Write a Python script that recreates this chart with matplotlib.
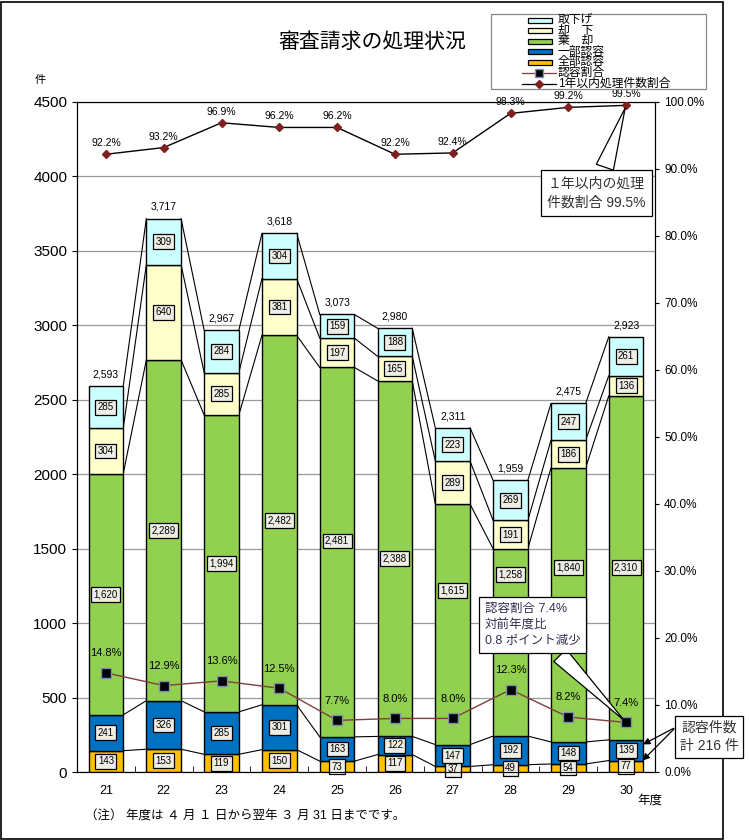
import numpy as np
import matplotlib.pyplot as plt
from matplotlib.patches import Rectangle
from matplotlib.lines import Line2D

plt.rcParams['font.family'] = ['Liberation Sans', 'Noto Sans CJK JP', 'DejaVu Sans']

# data
years = ["21", "22", "23", "24", "25", "26", "27", "28", "29", "30"]
zenbu = [143, 153, 119, 150, 73, 117, 37, 49, 54, 77]
ichibu = [241, 326, 285, 301, 163, 122, 147, 192, 148, 139]
kikyaku = [1620, 2289, 1994, 2482, 2481, 2388, 1615, 1258, 1840, 2310]
kyakka = [304, 640, 285, 381, 197, 165, 289, 191, 186, 136]
torisage = [285, 309, 284, 304, 159, 188, 223, 269, 247, 261]
nintei_rate = [14.8, 12.9, 13.6, 12.5, 7.7, 8.0, 8.0, 12.3, 8.2, 7.4]
within_year = [92.2, 93.2, 96.9, 96.2, 96.2, 92.2, 92.4, 98.3, 99.2, 99.5]

series = [zenbu, ichibu, kikyaku, kyakka, torisage]
names = ["全部認容", "一部認容", "棄　却", "却　下", "取下げ"]
colors = ["#FFC000", "#0070C0", "#92D050", "#FFFFCC", "#CCFFFF"]

# some 棄却 labels were moved up by hand in the original (series index 2)
label_shift = {(2, 4): 75, (2, 6): 225, (2, 7): 455, (2, 8): 250}

W, H = 749, 840
fig = plt.figure(figsize=(W/100, H/100), dpi=100)
ax = fig.add_axes([77/W, 1-772/H, 578/W, 670/H])

def fx(px):
    return px / W

def fy(py):
    return 1 - py / H

x = np.arange(len(years))
w = 0.6
bottom = np.zeros(len(years))
levels = []
for s, (vals, c) in enumerate(zip(series, colors)):
    v = np.array(vals)
    ax.bar(x, v, w, bottom=bottom, color=c, edgecolor="black", linewidth=1, zorder=3)
    for i, (xi, b, vi) in enumerate(zip(x, bottom, v)):
        yl = b + vi / 2 + label_shift.get((s, i), 0)
        ax.text(xi, yl, f"{vi:,}", ha="center", va="center", fontsize=7, zorder=6,
                bbox=dict(boxstyle="square,pad=0.25", fc="#EEEDE6", ec="black", lw=0.9))
    bottom = bottom + v
    levels.append(bottom.copy())

# series lines between bars
for lv in levels:
    for i in range(len(years) - 1):
        ax.plot([x[i] + w/2, x[i+1] - w/2], [lv[i], lv[i+1]], color="black", lw=0.8, zorder=2)

for xi, t in zip(x, levels[-1]):
    ax.text(xi, t + 45, f"{int(t):,}", ha="center", va="bottom", fontsize=7.5, zorder=6)

ax.set_xlim(-0.5, len(years) - 0.5)
ax.set_ylim(0, 4500)
ax.set_yticks(np.arange(0, 4501, 500))
ax.tick_params(axis="y", labelsize=11)
ax.set_xticks(x)
ax.set_xticklabels(years, fontsize=9)
ax.tick_params(axis="x", length=0, pad=9)
ax.set_xticks(np.arange(-0.5, len(years)), minor=True)
ax.tick_params(axis="x", which="minor", length=4, direction="in")
ax.grid(axis="y", color="#999999", lw=0.9, zorder=0)
ax.set_axisbelow(True)

ax2 = ax.twinx()
ax2.set_ylim(0, 100)
ax2.set_yticks(np.arange(0, 101, 10))
ax2.set_yticklabels([f"{v:.1f}%" for v in np.arange(0, 101, 10)], fontsize=8.5)
ax2.tick_params(axis="y", length=3)

ax2.plot(x, nintei_rate, color="#7F3F3F", lw=1, marker="s", ms=7, mfc="black", mec="#8090B0", zorder=5)
for xi, r in zip(x, nintei_rate):
    ax2.text(xi, r + 2.2, f"{r:.1f}%", ha="center", va="bottom", fontsize=8, zorder=6)
ax2.plot(x, within_year, color="black", lw=1, marker="D", ms=4, mfc="#7F1F1F", mec="#7F1F1F", zorder=5)
for xi, r in zip(x, within_year):
    ax2.text(xi, r + 0.9, f"{r:.1f}%", ha="center", va="bottom", fontsize=7.5, zorder=6)

# callouts
ax2.annotate("１年以内の処理\n件数割合 99.5%", xy=(x[-1], within_year[-1]),
             xytext=(fx(596), fy(193)), textcoords="figure fraction",
             ha="center", va="center", fontsize=10, color="#333333", linespacing=1.45,
             bbox=dict(boxstyle="square,pad=0.45", fc="white", ec="black", lw=0.9),
             arrowprops=dict(arrowstyle="wedge,tail_width=1.3", fc="white", ec="black", lw=0.9),
             zorder=7)
ax2.annotate("認容割合 7.4%\n対前年度比\n0.8 ポイント減少", xy=(x[-1], nintei_rate[-1]),
             xytext=(fx(485), fy(625)), textcoords="figure fraction",
             ha="left", va="center", fontsize=9, color="#303050", linespacing=1.45,
             bbox=dict(boxstyle="square,pad=0.45", fc="white", ec="black", lw=0.9),
             arrowprops=dict(arrowstyle="wedge,tail_width=1.4", fc="white", ec="black", lw=0.9,
                             relpos=(0.7, 0)),
             zorder=7)
for target in [levels[1][-1] - ichibu[-1] / 2 + 30, zenbu[-1] / 2 + 25]:
    ax.annotate("", xy=(x[-1] + w/2 - 0.05, target), xytext=(fx(676), fy(727)),
                textcoords="figure fraction",
                arrowprops=dict(arrowstyle="-|>", color="black", lw=0.9, mutation_scale=10),
                zorder=7)
fig.text(fx(709), fy(737), "認容件数\n計 216 件", ha="center", va="center", fontsize=10,
         color="#333333", linespacing=1.45,
         bbox=dict(boxstyle="square,pad=0.35", fc="white", ec="black", lw=0.9), zorder=8)

# title and labels
fig.text(fx(372), fy(42), "審査請求の処理状況", ha="center", va="center", fontsize=15)
fig.text(fx(40), fy(80), "件", ha="center", va="center", fontsize=8)
fig.text(fx(650), fy(801), "年度", ha="center", va="center", fontsize=9)
fig.text(fx(85), fy(817), "（注） 年度は ４ 月 １ 日から翌年 ３ 月 31 日までです。", ha="left", va="center", fontsize=9)

# legend drawn by hand so the entries can overlap like the original
fig.add_artist(Rectangle((fx(491), fy(89)), fx(215), 75/H, transform=fig.transFigure,
                         fc="white", ec="#888888", lw=0.9, zorder=9))
leg_labels = names[::-1] + ["認容割合", "1年以内処理件数割合"]
for k, lab in enumerate(leg_labels):
    yy = fy(20 + k * 10.6)
    if k < 5:
        fig.add_artist(Rectangle((fx(528), yy - 2.5/H), fx(24), 5/H, transform=fig.transFigure,
                                 fc=colors[::-1][k], ec="black", lw=0.9, zorder=10))
    elif k == 5:
        fig.add_artist(Line2D([fx(522), fx(556)], [yy, yy], transform=fig.transFigure,
                              color="#7F3F3F", lw=0.9, zorder=10))
        fig.add_artist(Line2D([fx(539)], [yy], transform=fig.transFigure, marker="s", ms=6,
                              mfc="black", mec="#8090B0", zorder=11))
    else:
        fig.add_artist(Line2D([fx(522), fx(556)], [yy, yy], transform=fig.transFigure,
                              color="black", lw=0.9, zorder=10))
        fig.add_artist(Line2D([fx(539)], [yy], transform=fig.transFigure, marker="D", ms=4,
                              mfc="#7F1F1F", mec="#7F1F1F", zorder=11))
    fig.text(fx(558), yy, lab, ha="left", va="center", fontsize=8.5, zorder=12)

# outer frame
fig.add_artist(Rectangle((1/W, 1/H), 722/W, 837/H, transform=fig.transFigure,
                         fill=False, ec="black", lw=1.2))

fig.savefig("out.png", dpi=100)
